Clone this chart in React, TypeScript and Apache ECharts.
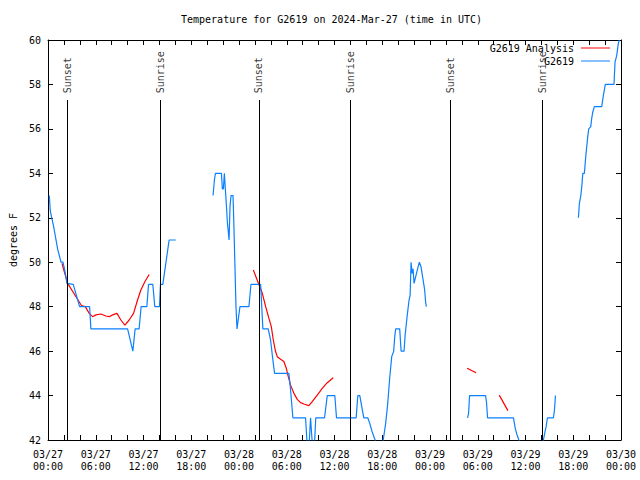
import React, { useEffect, useRef } from 'react';
import * as echarts from 'echarts';

// x values are hours since 03/27 00:00 UTC
const xTickLabels = [
  '03/27\n00:00', '03/27\n06:00', '03/27\n12:00', '03/27\n18:00',
  '03/28\n00:00', '03/28\n06:00', '03/28\n12:00', '03/28\n18:00',
  '03/29\n00:00', '03/29\n06:00', '03/29\n12:00', '03/29\n18:00',
  '03/30\n00:00',
];

const eventHours = [2.42, 14.08, 26.5, 38.03, 50.6, 62.15];
const eventNames = ['Sunset', 'Sunrise', 'Sunset', 'Sunrise', 'Sunset', 'Sunrise'];

// G2619 observations (null = no data)
const obsHours = [
  0.16, 0.29, 0.71, 1.21, 1.63, 1.88, 2.13, 2.38, 3.17, 3.97, 5.23, 5.39, 10.0, 10.66, 10.95, 11.45, 11.7, 12.42, 12.63, 13.17, 13.42, 14.01, 14.13, 14.43, 15.22, 16.06,
  18.0,
  20.74, 20.91, 21.04, 21.79, 21.91, 22.04, 22.16, 22.24, 22.41, 22.54, 22.75, 22.87, 23.0, 23.25, 23.37, 23.62, 23.75, 24.12, 25.25, 25.5, 26.72,
  27.0, 27.67, 27.97, 28.19, 28.47, 30.27, 30.48, 30.77, 32.36, 32.7, 32.99, 33.07, 33.37, 33.65, 34.75, 35.09, 36.04, 36.25, 38.72,
  38.93, 39.18, 39.35, 39.68, 40.18, 40.43, 40.73, 41.1, 41.6, 42.12, 42.43, 42.69, 42.94, 43.19, 43.44, 43.57, 43.69, 44.19, 44.37, 44.74,
  44.87, 45.12, 45.37, 45.5, 45.62, 45.75, 45.87, 46.0, 46.37, 46.66, 46.87, 47.2, 47.33, 47.45, 47.54,
  50.0,
  52.72, 52.85, 52.97, 54.98, 55.1, 55.23, 58.49, 58.7, 58.92, 59.17, 60.5, 61.8, 62.25, 62.47, 62.59, 62.76, 63.51, 63.64, 63.76,
  65.0,
  66.65, 66.77, 66.95, 67.07, 67.2, 67.4, 67.57, 67.82, 67.95, 68.2, 68.33, 68.45, 68.65, 69.58, 69.78, 70.03, 71.12, 71.25, 71.46, 71.66, 71.79,
];
const obsTemps = [
  53.0, 52.3, 51.6, 50.6, 50.0, 50.0, 49.6, 49.05, 49.0, 48.0, 48.0, 47.0, 47.0, 46.0, 47.0, 47.0, 48.0, 48.0, 49.0, 49.0, 48.0, 48.0, 49.0, 49.0, 51.0, 51.0,
  null,
  53.0, 53.7, 54.0, 54.0, 53.3, 53.3, 54.0, 54.0, 52.6, 51.8, 51.0, 52.5, 53.0, 53.0, 51.5, 48.0, 47.0, 48.0, 48.0, 49.0, 49.0,
  47.0, 47.0, 46.5, 45.8, 45.0, 45.0, 44.25, 43.0, 43.0, 41.0, 43.0, 43.0, 41.0, 43.0, 43.0, 44.0, 44.0, 43.0, 43.0,
  44.0, 44.0, 43.65, 43.0, 43.0, 42.75, 42.37, 42.0, 41.3, 42.0, 42.75, 43.65, 44.8, 45.75, 46.0, 46.65, 47.0, 47.0, 46.0, 46.0,
  46.7, 47.55, 48.3, 48.5, 50.0, 49.5, 49.7, 49.05, 49.6, 50.0, 49.8, 49.05, 48.75, 48.2, 48.0,
  null,
  43.0, 43.2, 44.0, 44.0, 43.7, 43.0, 43.0, 42.55, 42.25, 42.0, 41.0, 41.0, 42.0, 42.4, 42.6, 43.0, 43.0, 43.35, 44.0,
  null,
  52.0, 52.65, 53.0, 53.4, 54.0, 54.0, 54.75, 55.65, 56.0, 56.1, 56.5, 56.75, 57.0, 57.0, 57.5, 58.0, 58.0, 59.0, 59.3, 59.85, 60.0,
];

// G2619 Analysis
const anaHours = [
  1.76, 2.05, 2.47, 3.6, 4.2, 4.68, 5.18, 5.6, 6.02, 6.65, 7.28, 7.69, 8.11, 8.66, 9.16, 9.66, 10.2, 10.75, 11.25, 11.67, 12.17, 12.71,
  19.0,
  25.8, 26.5, 26.93, 27.35, 27.76, 28.06, 28.31, 28.6, 28.81, 29.23, 29.64, 29.94, 30.14, 30.48, 30.9, 31.32, 31.74, 32.15, 32.78, 33.2, 33.83, 34.46, 35.09, 35.84,
  44.0,
  52.66, 53.79,
  55.0,
  56.7, 57.79,
  59.0,
  60.66, 60.74,
];
const anaTemps = [
  49.95, 49.57, 49.05, 48.4, 48.05, 48.0, 47.7, 47.55, 47.63, 47.67, 47.58, 47.55, 47.63, 47.7, 47.4, 47.17, 47.4, 47.7, 48.3, 48.75, 49.12, 49.45,
  null,
  49.65, 49.0, 48.6, 48.0, 47.47, 47.1, 46.5, 45.97, 45.75, 45.63, 45.53, 45.23, 44.92, 44.47, 44.1, 43.83, 43.68, 43.62, 43.55, 43.73, 44.02, 44.32, 44.58, 44.8,
  null,
  45.23, 45.03,
  null,
  44.02, 43.32,
  null,
  43.2, 43.2,
];

const Y_MIN = 42;
const Y_MAX = 60;
const EVENT_LINE_TOP = 57.3;
const EVENT_LABEL_BASE = 57.6;

const MONO = '"DejaVu Sans Mono", monospace';

function pairs(xs: number[], ys: (number | null)[]) {
  return xs.map((x, i) => [x, ys[i] === null ? '-' : ys[i]]);
}

export default function App() {
  const ref = useRef<HTMLDivElement>(null);
  useEffect(() => {
    if (!ref.current) return;
    const chart = echarts.init(ref.current, null, { renderer: 'svg' });
    const axisCommon = {
      type: 'value',
      min: 0,
      max: 72,
      interval: 2,
      axisLine: { show: true, onZero: false, lineStyle: { color: '#000', width: 1 } },
      axisTick: { show: true, inside: true, length: 5, lineStyle: { color: '#000' } },
      splitLine: { show: false },
    };
    const yCommon = {
      type: 'value',
      min: Y_MIN,
      max: Y_MAX,
      interval: 2,
      axisLine: { show: true, onZero: false, lineStyle: { color: '#000', width: 1 } },
      axisTick: { show: true, inside: true, length: 5, lineStyle: { color: '#000' } },
      splitLine: { show: false },
    };
    chart.setOption({
      animation: false,
      backgroundColor: '#fff',
      title: {
        text: 'Temperature for G2619 on 2024-Mar-27 (time in UTC)',
        left: 181,
        top: 14,
        padding: 0,
        textStyle: { fontFamily: MONO, fontSize: 10, fontWeight: 'normal', color: '#000' },
      },
      legend: [
        {
          data: ['G2619 Analysis'],
          right: 30, top: 43, padding: 0,
          icon: 'rect', itemWidth: 29, itemHeight: 1, align: 'right',
          textStyle: { fontFamily: MONO, fontSize: 10, color: '#000', padding: [0, 2, 0, 0] },
        },
        {
          data: ['G2619'],
          right: 30, top: 56, padding: 0,
          icon: 'rect', itemWidth: 29, itemHeight: 1, align: 'right',
          textStyle: { fontFamily: MONO, fontSize: 10, color: '#000', padding: [0, 2, 0, 0] },
        },
      ],
      grid: { left: 47, right: 19, top: 40, bottom: 40, containLabel: false },
      xAxis: [
        {
          ...axisCommon,
          position: 'bottom',
          axisLabel: {
            show: true,
            showMinLabel: true,
            showMaxLabel: true,
            fontFamily: MONO,
            fontSize: 10,
            lineHeight: 12,
            color: '#000',
            margin: 8,
            formatter: (v: number) => (Math.round(v) % 6 === 0 ? xTickLabels[Math.round(v) / 6] : ''),
          },
        },
        { ...axisCommon, position: 'top', axisLabel: { show: false } },
      ],
      yAxis: [
        {
          ...yCommon,
          position: 'left',
          name: 'degrees F',
          nameLocation: 'middle',
          nameGap: 30,
          nameRotate: 90,
          nameTextStyle: { fontFamily: MONO, fontSize: 10, color: '#000' },
          axisLabel: { fontFamily: MONO, fontSize: 10, color: '#000', margin: 7, showMinLabel: true, showMaxLabel: true },
        },
        { ...yCommon, position: 'right', axisLabel: { show: false } },
      ],
      series: [
        {
          name: 'G2619 Analysis',
          type: 'line',
          data: pairs(anaHours, anaTemps),
          showSymbol: false,
          symbol: 'none',
          connectNulls: false,
          clip: true,
          color: '#ff0000',
          lineStyle: { color: '#ff0000', width: 1.2 },
          z: 2,
        },
        {
          name: 'G2619',
          type: 'line',
          data: pairs(obsHours, obsTemps),
          showSymbol: false,
          symbol: 'none',
          connectNulls: false,
          clip: true,
          color: '#0a80ff',
          lineStyle: { color: '#0a80ff', width: 1.2 },
          z: 3,
          markLine: {
            silent: true,
            symbol: ['none', 'none'],
            label: { show: false },
            lineStyle: { color: '#000', width: 1, type: 'solid' },
            data: eventHours.map((h) => [{ coord: [h, Y_MIN] }, { coord: [h, EVENT_LINE_TOP] }]),
          },
        },
        {
          name: 'events',
          type: 'scatter',
          symbolSize: 0,
          silent: true,
          data: eventHours.map((h, i) => ({ value: [h, EVENT_LABEL_BASE], name: eventNames[i] })),
          label: {
            show: true,
            position: [0, 0],
            rotate: 90,
            align: 'left',
            verticalAlign: 'middle',
            formatter: (p: any) => p.name,
            fontFamily: MONO,
            fontSize: 10,
            color: '#000',
          },
          z: 4,
        },
      ],
    });
    return () => chart.dispose();
  }, []);
  return (
    <div
      ref={ref}
      style={{ position: 'fixed', left: 0, top: 0, width: 640, height: 480, background: '#fff' }}
    />
  );
}
